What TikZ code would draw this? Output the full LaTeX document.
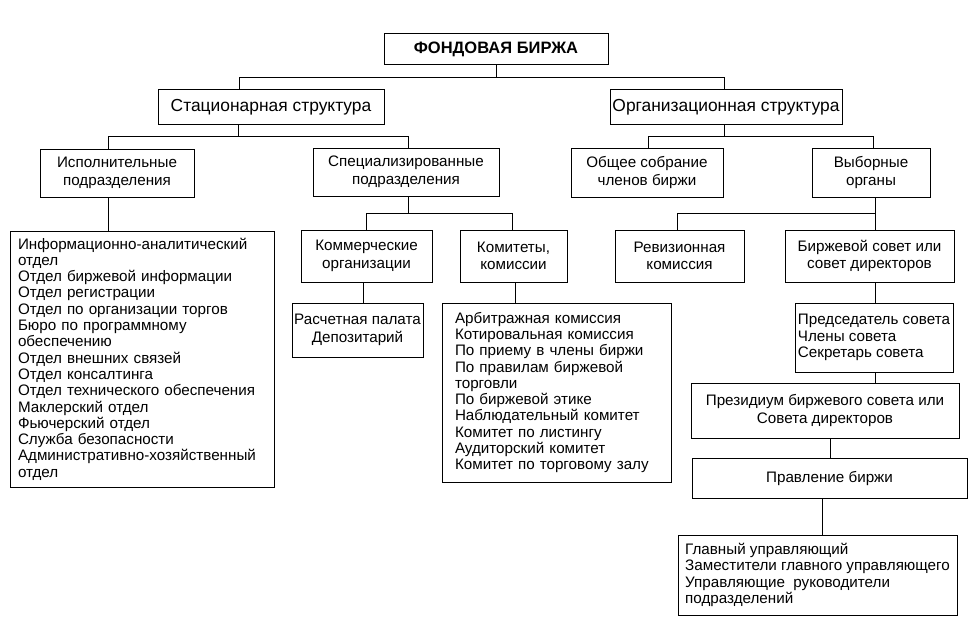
\documentclass[tikz,border=0pt]{standalone}
\usepackage{fontspec}
\setmainfont{Liberation Sans}
\usetikzlibrary{positioning}

\begin{document}
\begin{tikzpicture}[x=1pt, y=-1pt, line width=1pt]
      \tikzstyle{boxNode} = [rectangle, draw=black, line width=1pt, inner sep=2pt, align=center, font=\fontsize{15.2}{17.5}\selectfont]
      \tikzstyle{topNode} = [boxNode, font=\fontsize{17.4}{20}\selectfont]
      \tikzstyle{listNode} = [boxNode, align=left, font=\fontsize{15.2}{16.3}\selectfont]
      \tikzstyle{myLine} = [draw=black, line width=1pt]

      \useasboundingbox (0,0) rectangle (974,623);

      % Узлы
      \node [boxNode, minimum width=224pt, minimum height=31pt, font=\fontsize{16.5}{18}\bfseries] (birzha) at (496,49.5) {ФОНДОВАЯ БИРЖА};
      \node [topNode, minimum width=226pt, minimum height=35pt] (stac) at (271,107.5) {Стационарная структура};
      \node [topNode, minimum width=232pt, minimum height=35pt] (org) at (726,107.5) {Организационная структура};

      \node [boxNode, minimum width=154pt, minimum height=48pt] (ispoln) at (117,173) {Исполнительные\\подразделения};
      \node [boxNode, minimum width=186pt, minimum height=48pt] (spec) at (406,172) {Специализированные\\подразделения};
      \node [boxNode, minimum width=152pt, minimum height=49pt] (obsch) at (647,172.5) {Общее собрание\\членов биржи};
      \node [boxNode, minimum width=118pt, minimum height=49pt] (vybor) at (871,172.5) {Выборные\\органы};

      \node [listNode, inner xsep=8pt, text width=248pt, minimum height=256pt] (otdely) at (142,359) {Информационно-аналитический\\отдел\\Отдел биржевой информации\\Отдел регистрации\\Отдел по организации торгов\\Бюро по программному\\обеспечению\\Отдел внешних связей\\Отдел консалтинга\\Отдел технического обеспечения\\Маклерский отдел\\Фьючерский отдел\\Служба безопасности\\Административно-хозяйственный\\отдел};

      \node [boxNode, minimum width=131pt, minimum height=52pt] (kommerch) at (366.5,256) {Коммерческие\\организации};
      \node [boxNode, minimum width=107pt, minimum height=52pt] (komitety) at (513.5,256) {Комитеты,\\комиссии};
      \node [boxNode, minimum width=129pt, minimum height=52pt] (reviz) at (679.5,256) {Ревизионная\\комиссия};
      \node [boxNode, minimum width=169pt, minimum height=52pt] (birzhsovet) at (869.5,256) {Биржевой совет или\\совет директоров};

      \node [boxNode, minimum width=131pt, minimum height=54pt] (raschet) at (357.5,330) {Расчетная палата\\Депозитарий};
      \node [listNode, inner xsep=13pt, text width=203pt, minimum height=179pt] (komlist) at (556.5,392.5) {Арбитражная комиссия\\Котировальная комиссия\\По приему в члены биржи\\По правилам биржевой\\торговли\\По биржевой этике\\Наблюдательный комитет\\Комитет по листингу\\Аудиторский комитет\\Комитет по торговому залу};
      \node [listNode, minimum width=158pt, minimum height=69pt] (predsed) at (874,337.5) {Председатель совета\\Члены совета\\Секретарь совета};

      \node [boxNode, minimum width=268pt, minimum height=55pt] (prezid) at (825,410.5) {Президиум биржевого совета или\\Совета директоров};
      \node [boxNode, minimum width=275pt, minimum height=40pt] (pravl) at (829.5,478) {Правление биржи};
      \node [listNode, minimum width=279pt, minimum height=80pt] (glavn) at (817.5,575) {Главный управляющий\\Заместители главного управляющего\\Управляющие\ \ руководители\\подразделений};

      % Связи
      \draw [myLine] (birzha.south) -- ++(0,12) coordinate (b1);
      \draw [myLine] (b1) -| ([xshift=-32pt]stac.north);
      \draw [myLine] (b1) -| ([xshift=-2pt]org.north);

      \draw [myLine] ([xshift=-33pt]stac.south) -- ++(0,11) coordinate (s1);
      \draw [myLine] (s1) -| ([xshift=-9pt]ispoln.north);
      \draw [myLine] (s1) -| ([xshift=2pt]spec.north);

      \draw [myLine] ([xshift=-2pt]org.south) -- ++(0,11) coordinate (o1);
      \draw [myLine] (o1) -| ([xshift=1pt]obsch.north);
      \draw [myLine] (o1) -| ([xshift=2pt]vybor.north);

      \draw [myLine] ([xshift=-9pt]ispoln.south) -- ([xshift=-9pt]ispoln.south |- otdely.north);

      \draw [myLine] ([xshift=2pt]spec.south) -- ++(0,17) coordinate (p1);
      \draw [myLine] (p1) -| (kommerch.north);
      \draw [myLine] (p1) -| ([xshift=-1.5pt]komitety.north);

      \draw [myLine] ([xshift=4pt]vybor.south) -- ++(0,16) coordinate (v1);
      \draw [myLine] (v1) -| ([xshift=-2.5pt]reviz.north);
      \draw [myLine] (v1) -| ([xshift=5.5pt]birzhsovet.north);

      \draw [myLine] ([xshift=-3.5pt]kommerch.south) -- ([xshift=-3.5pt]kommerch.south |- raschet.north);
      \draw [myLine] ([xshift=1.5pt]komitety.south) -- ([xshift=1.5pt]komitety.south |- komlist.north);
      \draw [myLine] ([xshift=5.5pt]birzhsovet.south) -- ([xshift=5.5pt]birzhsovet.south |- predsed.north);
      \draw [myLine] ([xshift=1pt]predsed.south) -- ([xshift=1pt]predsed.south |- prezid.north);
      \draw [myLine] ([xshift=5pt]prezid.south) -- ([xshift=5pt]prezid.south |- pravl.north);
      \draw [myLine] ([xshift=-7.5pt]pravl.south) -- ([xshift=-7.5pt]pravl.south |- glavn.north);

\end{tikzpicture}
\end{document}
